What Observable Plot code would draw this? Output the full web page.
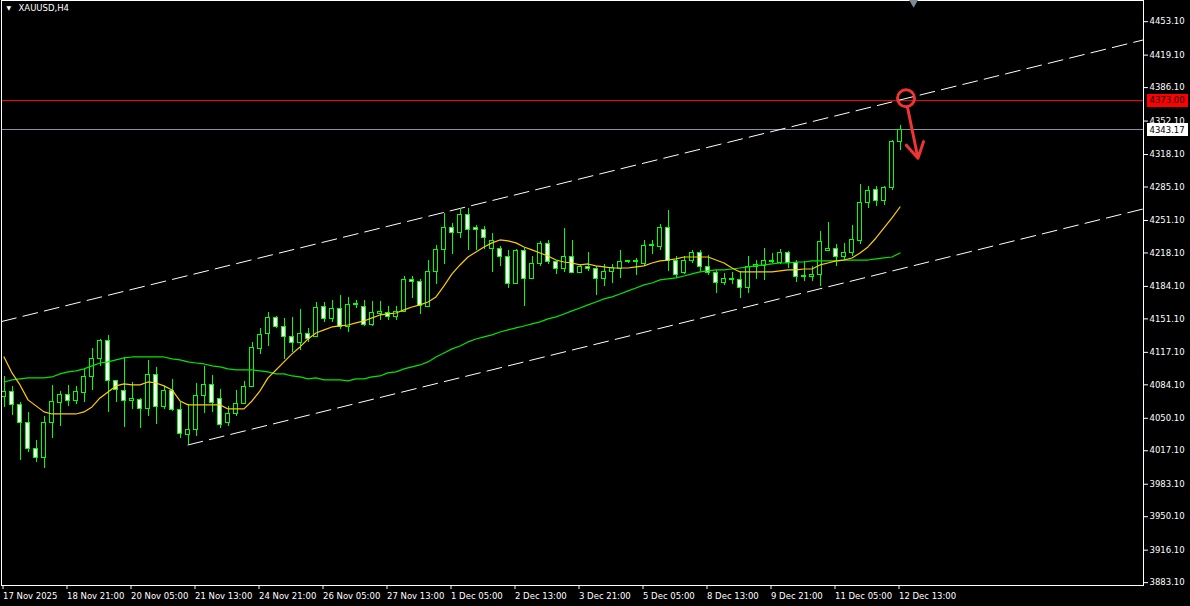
<!DOCTYPE html>
<html><head><meta charset="utf-8">
<script src="https://cdn.jsdelivr.net/npm/d3@7"></script>
<script src="https://cdn.jsdelivr.net/npm/@observablehq/plot@0.6"></script>
<style>
html,body{margin:0;padding:0;background:#000;overflow:hidden}
#chart svg{display:block}
</style></head><body><div id="chart"></div>
<script>
const symbolLabel = "XAUUSD,H4";

const openP = [4071.8,4076.9,4063.7,4045.4,4019.0,4009.8,4045.4,4065.7,4073.8,4067.7,
4075.9,4092.1,4110.4,4128.7,4088.1,4077.9,4067.7,4069.0,4059.6,4094.2,
4061.6,4077.9,4058.6,4033.2,4038.3,4072.8,4084.0,4069.8,4045.4,4054.5,
4064.7,4082.0,4120.6,4135.8,4152.1,4142.9,4132.8,4126.7,4135.8,4132.8,
4163.2,4151.1,4161.2,4142.9,4165.3,4163.2,4144.9,4156.1,4157.1,4153.1,
4158.1,4190.7,4188.6,4163.2,4198.8,4221.2,4243.5,4238.4,4256.7,4243.5,
4241.5,4222.2,4222.2,4214.0,4186.6,4220.2,4191.7,4206.9,4227.2,4208.9,
4201.8,4214.0,4197.8,4203.9,4201.8,4191.7,4198.8,4201.8,4208.9,4209.9,
4206.9,4225.2,4224.2,4243.5,4210.0,4197.8,4210.0,4218.1,4203.9,4197.8,
4187.6,4190.7,4190.7,4182.5,4203.9,4204.9,4208.9,4207.9,4218.1,4207.9,
4193.7,4193.7,4195.7,4220.2,4222.2,4214.0,4218.1,4230.3,4268.9,4282.1,
4271.0,4284.2,4330.9];
const highP = [4092.1,4082.0,4065.7,4055.5,4027.1,4051.5,4083.0,4076.9,4083.0,4082.0,
4099.2,4120.6,4129.7,4133.8,4089.0,4111.4,4086.0,4070.0,4108.4,4101.3,
4082.0,4089.1,4065.7,4063.7,4085.0,4102.3,4093.1,4078.9,4061.6,4077.9,
4087.0,4126.7,4140.9,4157.1,4153.1,4151.1,4152.1,4160.2,4140.9,4167.3,
4167.3,4169.3,4174.4,4172.4,4169.3,4169.3,4168.3,4168.3,4163.2,4163.2,
4193.7,4193.7,4190.7,4210.0,4225.2,4257.7,4247.6,4262.8,4262.8,4245.5,
4244.5,4237.4,4224.2,4220.2,4221.2,4222.2,4214.0,4229.3,4230.3,4210.9,
4242.5,4230.3,4205.9,4218.1,4203.9,4205.9,4205.9,4220.2,4210.9,4212.0,
4230.3,4230.3,4246.6,4260.8,4214.0,4214.0,4220.2,4220.2,4215.0,4199.8,
4196.8,4197.8,4198.8,4214.0,4210.9,4222.2,4217.1,4221.2,4219.1,4210.0,
4208.9,4203.9,4239.4,4248.6,4226.2,4227.2,4245.5,4287.2,4285.2,4285.2,
4285.2,4331.9,4347.1];
const lowP = [4060.6,4052.5,4006.8,4014.9,4004.7,3998.6,4029.1,4041.3,4061.6,4063.7,
4065.7,4077.9,4102.3,4055.5,4065.7,4040.3,4058.6,4039.3,4051.5,4043.4,
4058.6,4056.6,4029.1,4023.0,4031.2,4054.5,4055.5,4039.3,4041.3,4051.5,
4063.7,4080.9,4114.5,4122.6,4140.9,4109.4,4116.5,4118.5,4126.7,4131.8,
4147.0,4147.0,4139.9,4136.8,4161.2,4142.9,4142.9,4149.0,4149.0,4149.0,
4157.1,4171.4,4155.1,4162.2,4185.6,4205.9,4216.1,4232.3,4220.2,4220.2,
4221.2,4197.8,4203.9,4181.5,4185.6,4163.2,4190.7,4203.9,4205.9,4195.7,
4197.8,4196.8,4196.8,4198.8,4174.4,4183.6,4186.6,4191.7,4206.9,4194.7,
4203.9,4216.1,4220.2,4198.8,4191.7,4195.7,4206.9,4198.8,4194.7,4176.4,
4184.6,4185.6,4171.4,4177.4,4190.7,4189.6,4206.9,4205.9,4202.8,4187.6,
4188.6,4188.6,4183.6,4219.5,4203.9,4210.9,4214.0,4226.2,4262.8,4264.8,
4265.9,4281.1,4321.7];
const closeP = [4076.9,4063.7,4045.4,4019.0,4009.8,4045.4,4066.7,4073.8,4067.7,4076.9,
4092.1,4110.4,4128.7,4088.1,4078.9,4067.7,4069.8,4059.6,4094.2,4061.6,
4077.9,4058.6,4034.2,4038.3,4072.8,4084.0,4065.7,4043.4,4054.5,4064.7,
4082.0,4121.6,4134.8,4152.1,4142.9,4132.8,4126.7,4135.8,4130.7,4162.2,
4151.1,4161.2,4142.9,4165.3,4166.3,4144.9,4157.1,4158.1,4153.1,4158.1,
4190.7,4188.6,4164.3,4198.8,4221.2,4243.5,4238.4,4256.7,4241.5,4241.5,
4233.3,4230.3,4214.0,4186.6,4220.2,4191.7,4206.9,4227.2,4208.9,4201.8,
4214.0,4197.8,4203.9,4201.8,4191.7,4198.8,4202.8,4208.9,4209.9,4208.9,
4225.2,4226.2,4243.5,4210.0,4195.7,4210.0,4218.1,4203.9,4197.8,4187.6,
4191.7,4191.7,4182.5,4203.9,4205.9,4210.0,4209.9,4218.1,4207.9,4193.7,
4194.7,4195.7,4229.3,4222.2,4214.0,4218.1,4231.3,4268.9,4281.1,4271.0,
4284.2,4330.9,4343.17];

const maFast = [4112.4,4096.2,4084.0,4068.8,4062.7,4056.6,4054.5,4054.5,4054.5,4054.5,
4056.6,4061.6,4070.8,4076.9,4083.0,4085.0,4084.0,4084.0,4087.0,4086.0,
4083.0,4078.9,4067.7,4063.7,4063.7,4063.7,4063.7,4063.7,4059.6,4059.6,
4059.6,4067.7,4077.9,4091.1,4099.2,4107.4,4115.5,4122.6,4130.7,4136.8,
4139.9,4142.9,4143.9,4144.9,4147.0,4149.0,4152.1,4155.1,4156.1,4157.1,
4160.2,4163.2,4165.3,4168.3,4173.4,4184.6,4196.8,4205.9,4214.0,4219.1,
4224.2,4228.3,4231.3,4230.3,4228.3,4224.2,4221.2,4218.1,4215.0,4210.9,
4208.9,4207.9,4205.9,4206.9,4204.9,4203.9,4202.8,4202.8,4202.8,4203.9,
4204.9,4207.9,4210.0,4210.9,4212.0,4214.0,4214.0,4214.0,4214.0,4210.9,
4207.9,4202.8,4198.8,4198.8,4198.8,4198.8,4198.8,4199.8,4200.8,4200.8,
4201.8,4201.8,4205.9,4207.9,4210.0,4210.9,4213.0,4218.1,4224.2,4233.3,
4243.5,4253.7,4264.8];
const maSlow = [4087.0,4089.1,4090.1,4091.1,4091.1,4091.1,4092.1,4095.2,4097.2,4098.2,
4100.3,4103.3,4106.3,4107.4,4109.4,4111.4,4112.4,4112.4,4112.4,4112.4,
4112.4,4110.4,4109.4,4107.4,4106.3,4105.3,4103.3,4102.3,4100.3,4099.2,
4099.2,4099.2,4098.2,4097.2,4095.2,4095.2,4093.1,4092.1,4090.1,4091.1,
4089.1,4089.1,4089.1,4088.1,4090.1,4090.1,4092.1,4093.1,4096.2,4097.2,
4100.3,4102.3,4104.3,4107.4,4112.4,4116.5,4120.6,4123.6,4127.7,4130.7,
4132.8,4134.8,4137.8,4139.9,4141.9,4143.9,4146.0,4148.0,4151.1,4153.1,
4156.1,4159.2,4162.2,4165.3,4168.3,4171.4,4173.4,4176.4,4179.5,4182.5,
4185.6,4187.6,4190.7,4191.7,4192.7,4194.7,4196.8,4198.8,4199.8,4200.8,
4200.8,4201.8,4202.8,4203.9,4204.9,4205.9,4206.9,4207.9,4207.9,4208.9,
4208.9,4210.0,4210.0,4210.0,4210.0,4210.9,4210.9,4210.9,4210.9,4212.0,
4213.0,4214.0,4218.1];

const priceTicks = [4453.1,4419.1,4386.1,4352.1,4318.1,4285.1,4251.1,4218.1,4184.1,
4151.1,4117.1,4084.1,4050.1,4017.1,3983.1,3950.1,3916.1,3883.1];
const timeTickBars = [0,8,16,24,32,40,48,56,64,72,80,88,96,104,112];
const timeTickLabels = ["17 Nov 2025","18 Nov 21:00","20 Nov 05:00","21 Nov 13:00","24 Nov 21:00",
"26 Nov 05:00","27 Nov 13:00","1 Dec 05:00","2 Dec 13:00","3 Dec 21:00","5 Dec 05:00",
"8 Dec 13:00","9 Dec 21:00","11 Dec 05:00","12 Dec 13:00"];

const channelUpperBars = [-0.3, 142.4];
const channelUpperPrices = [4148.4, 4434.5];
const channelLowerBars = [23, 142.4];
const channelLowerPrices = [4023.0, 4262.8];

const levelPrice = 4373.00;
const bidPrice = 4343.17;
const markBar = 112.75, markPrice = 4375.3;
const arrowBars = [112.92, 114.25];
const arrowPrices = [4366.7, 4314.3];
const shiftBar = 113.7;

const barDomain = [-0.3125, 142.4375];
const priceDomain = [3880.2, 4474.6];

// tables built from the arrays
const candles = openP.map((o, k) => ({i: k, open: o, high: highP[k], low: lowP[k], close: closeP[k]}));
const fast = maFast.map((v, k) => ({i: k, v}));
const slow = maSlow.map((v, k) => ({i: k, v}));
const channel = [
  ...channelUpperBars.map((b, k) => ({id: "u", i: b, p: channelUpperPrices[k]})),
  ...channelLowerBars.map((b, k) => ({id: "l", i: b, p: channelLowerPrices[k]}))
];
const boxes = [
  {price: levelPrice, text: levelPrice.toFixed(2), bg: "#ff0000", fg: "#000000"},
  {price: bidPrice, text: bidPrice.toFixed(2), bg: "#ffffff", fg: "#000000"}
];

const FONT = "'DejaVu Sans', 'Liberation Sans', sans-serif";
const GREEN = "#00ff00";

const chart = Plot.plot({
  width: 1190, height: 606,
  marginLeft: 1, marginRight: 47, marginTop: 0, marginBottom: 21,
  style: {background: "#000", color: "#fff", fontFamily: FONT, fontSize: "8.5px"},
  x: {domain: barDomain},
  y: {domain: priceDomain},
  marks: [
    Plot.ruleY([levelPrice], {stroke: "#ff0000", strokeWidth: 1}),
    Plot.ruleY([bidPrice], {stroke: "#8592a4", strokeWidth: 1}),
    Plot.line(channel, {x: "i", y: "p", z: "id", stroke: "#fff", strokeWidth: 1, strokeDasharray: "15,7"}),
    Plot.ruleX(candles, {x: "i", y1: "low", y2: "high", stroke: GREEN, strokeWidth: 1}),
    Plot.rect(candles, {x1: d => d.i - 0.25, x2: d => d.i + 0.25, y1: "open", y2: "close",
      fill: d => d.close >= d.open ? "#000" : "#fff", stroke: GREEN, strokeWidth: 1}),
    Plot.line(slow, {x: "i", y: "v", stroke: "#00e600", strokeWidth: 1.2}),
    Plot.line(fast, {x: "i", y: "v", stroke: "#ffcc00", strokeWidth: 1.2}),
    Plot.dot([{i: markBar, p: markPrice}], {x: "i", y: "p", r: 8.5, stroke: "#f03434", strokeWidth: 3, fill: "none"}),
    Plot.arrow([{x1: arrowBars[0], y1: arrowPrices[0], x2: arrowBars[1], y2: arrowPrices[1]}],
      {x1: "x1", y1: "y1", x2: "x2", y2: "y2", stroke: "#f03434", strokeWidth: 3, headLength: 9}),
    Plot.frame({stroke: "#fff"}),
    Plot.axisY(priceTicks, {anchor: "right", tickSize: 4, tickPadding: 2, label: null,
      tickFormat: d => d.toFixed(2), color: "#fff", fontSize: 8.5}),
    Plot.axisX(timeTickBars, {anchor: "bottom", tickSize: 4, tickPadding: 3, label: null,
      tickFormat: d => timeTickLabels[timeTickBars.indexOf(d)], textAnchor: "start", dx: -1,
      color: "#fff", fontSize: 8.5}),
    Plot.text(boxes, {y: "price", frameAnchor: "right", text: "text", textAnchor: "start", dx: 6,
      fill: "fg", fontSize: 8.5}),
    Plot.text(["\u25BC"], {frameAnchor: "top-left", dx: 5, dy: 8, lineAnchor: "middle", textAnchor: "start",
      fill: "#fff", fontSize: 6}),
    Plot.text([symbolLabel], {frameAnchor: "top-left", dx: 17, dy: 8, lineAnchor: "middle", textAnchor: "start",
      fill: "#fff", fontSize: 8.5}),
    Plot.dot([shiftBar], {x: d => d, frameAnchor: "top", dy: 1, symbol: "triangle", rotate: 180,
      r: 4, fill: "#7d8898", stroke: "none"})
  ]
});
document.getElementById("chart").appendChild(chart);

// background boxes behind the price labels
const NS = "http://www.w3.org/2000/svg";
for (const b of boxes) {
  const t = [...chart.querySelectorAll("text")].find(n => n.textContent === b.text);
  if (!t) continue;
  const bb = t.getBBox();
  const r = document.createElementNS(NS, "rect");
  r.setAttribute("x", bb.x - 3);
  r.setAttribute("y", bb.y + bb.height / 2 - 6.5);
  r.setAttribute("width", bb.width + 6);
  r.setAttribute("height", 13);
  r.setAttribute("fill", b.bg);
  if (t.getAttribute("transform")) r.setAttribute("transform", t.getAttribute("transform"));
  t.parentNode.insertBefore(r, t);
}
chart.querySelectorAll("rect, line").forEach(e => e.setAttribute("shape-rendering", "crispEdges"));
</script>
</body></html>
